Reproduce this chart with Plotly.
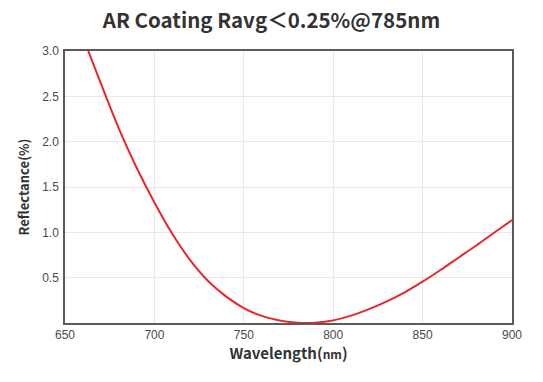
import plotly.graph_objects as go

wavelength = [663, 670, 680, 690, 700, 710, 720, 730, 740, 750, 760, 770, 780, 785,
              790, 800, 810, 820, 830, 840, 850, 860, 870, 880, 890, 900]
reflectance = [3.0, 2.645, 2.15, 1.715, 1.33, 0.984, 0.693, 0.463, 0.294, 0.165, 0.078, 0.027, 0.003, 0.0,
               0.003, 0.029, 0.081, 0.153, 0.239, 0.339, 0.456, 0.585, 0.72, 0.855, 0.995, 1.135]
x_ticks = [650, 700, 750, 800, 850, 900]
y_ticks = [0.5, 1.0, 1.5, 2.0, 2.5, 3.0]
y_tick_labels = ["0.5", "1.0", "1.5", "2.0", "2.5", "3.0"]

fig = go.Figure()
fig.add_trace(go.Scatter(
    x=wavelength, y=reflectance, mode="lines",
    line=dict(color="#e8262b", width=2, shape="spline", smoothing=1.0),
    showlegend=False, hoverinfo="skip",
))

fig.update_layout(
    width=543, height=382,
    margin=dict(l=65, r=31, t=51, b=59),
    paper_bgcolor="white", plot_bgcolor="white",
    title=dict(
        text="AR Coating Ravg＜0.25%@785nm",
        x=0.5, xref="container", xanchor="center",
        y=0.945, yanchor="middle", yref="container",
        font=dict(family="Noto Sans CJK SC", size=20.5, color="#333333", weight="bold"),
    ),
)
fig.update_xaxes(
    range=[650, 900], tickvals=x_ticks, ticktext=[str(v) for v in x_ticks],
    showgrid=True, gridcolor="#e8e8e8", gridwidth=1,
    showline=True, mirror=True, linecolor="#5a5a5a", linewidth=1.5,
    ticks="", zeroline=False,
    tickfont=dict(family="Liberation Sans", size=12, color="#4a4a4a"),
    title=dict(text="Wavelength(<span style='font-size:12px'>nm</span>)",
               font=dict(family="Noto Sans CJK SC", size=15, color="#333333", weight="bold"),
               standoff=6),
)
fig.update_yaxes(
    range=[0, 3], tickvals=y_ticks, ticktext=y_tick_labels,
    showgrid=True, gridcolor="#e8e8e8", gridwidth=1,
    showline=True, mirror=True, linecolor="#5a5a5a", linewidth=1.5,
    ticks="outside", ticklen=2, tickcolor="rgba(0,0,0,0)", zeroline=False,
    tickfont=dict(family="Liberation Sans", size=12, color="#4a4a4a"),
    title=dict(text="Reflectance(%)",
               font=dict(family="Noto Sans CJK SC", size=13, color="#333333", weight="bold"),
               standoff=10),
)

fig.write_html("out.html", config={"displayModeBar": False},
               post_script="document.body.style.margin='0';")
